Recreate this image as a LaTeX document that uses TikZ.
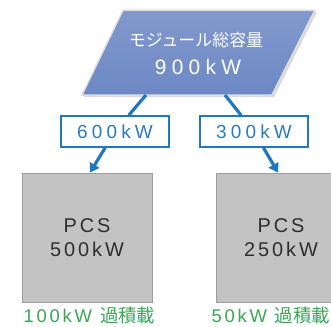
\documentclass[tikz,border=0pt]{standalone}
\usepackage{fontspec}
\setmainfont{Liberation Sans}
\newfontfamily\jp{Noto Sans CJK JP}
\newfontfamily\spc[LetterSpace=25]{Liberation Sans}
\newfontfamily\spb[LetterSpace=15]{Liberation Sans}
\newfontfamily\spl[LetterSpace=22]{Liberation Sans}
\usetikzlibrary{arrows.meta,shadows}
\definecolor{modtop}{HTML}{8399CD}
\definecolor{modbot}{HTML}{6C88C4}
\definecolor{linkblue}{HTML}{1F78C1}
\definecolor{labblue}{HTML}{2B7BC3}
\definecolor{pcsgray}{HTML}{C3C3C3}
\definecolor{pcsedge}{HTML}{9C9C9C}
\definecolor{pcstext}{HTML}{2E2E2E}
\definecolor{greentext}{HTML}{38A655}
\tikzset{
  link/.style={draw=linkblue,line width=3.2pt},
  arr/.style={link,-{Triangle[length=9pt,width=11pt]}},
  labbox/.style={draw=linkblue,line width=1.4pt,fill=white,minimum width=108bp,minimum height=31bp,inner sep=0pt,text=labblue,font=\fontsize{19}{22}\selectfont\spl},
  pcsbox/.style={draw=pcsedge,line width=0.8pt,fill=pcsgray,minimum width=130bp,minimum height=129bp,inner sep=0pt,text=pcstext,align=center,font=\fontsize{20}{24}\selectfont\spb,
    drop shadow={shadow xshift=1.2bp,shadow yshift=-1.2bp,fill=black!35,opacity=0.6}},
  greenlab/.style={text=greentext,inner sep=0pt,font=\fontsize{18.5}{21}\selectfont\spb},
}
\begin{document}
\begin{tikzpicture}[x=1bp,y=-1bp]
\useasboundingbox (0,0) rectangle (331,327);
% module parallelogram
\fill[black!25,opacity=0.6] (125,12) -- (317,12) -- (274,97) -- (84,97) -- cycle;
\shade[top color=modtop,bottom color=modbot,draw=white!88!black,line width=1.5pt]
  (123,10) -- (315,10) -- (272,95) -- (82,95) -- cycle;
\node[text=white,inner sep=0pt,font=\fontsize{17}{20}\selectfont\jp] (modname) at (196,40) {モジュール総容量};
\node[text=white,inner sep=0pt,font=\fontsize{21}{24}\selectfont\spc] (modval) at (198,67) {900kW};
\coordinate (mL) at (146,95);
\coordinate (mR) at (225,95);
% PCS boxes
\node[pcsbox] (pcs1) at (87,237.5) {PCS\\500kW};
\node[pcsbox] (pcs2) at (281,237.5) {PCS\\250kW};
% labels
\node[labbox] (lab1) at (115,131.5) {600kW};
\node[labbox] (lab2) at (254,131.5) {300kW};
% connectors
\draw[link] (mL) -- (lab1);
\draw[link] (mR) -- (lab2);
\draw[arr] (lab1) -- ([xshift=3bp]pcs1.north);
\draw[arr] (lab2) -- ([xshift=-3bp]pcs2.north);
% green notes
\node[greenlab] (g1) at (89.5,316) {100kW {\jp 過積載}};
\node[greenlab] (g2) at (271,316) {50kW {\jp 過積載}};
\end{tikzpicture}
\end{document}
